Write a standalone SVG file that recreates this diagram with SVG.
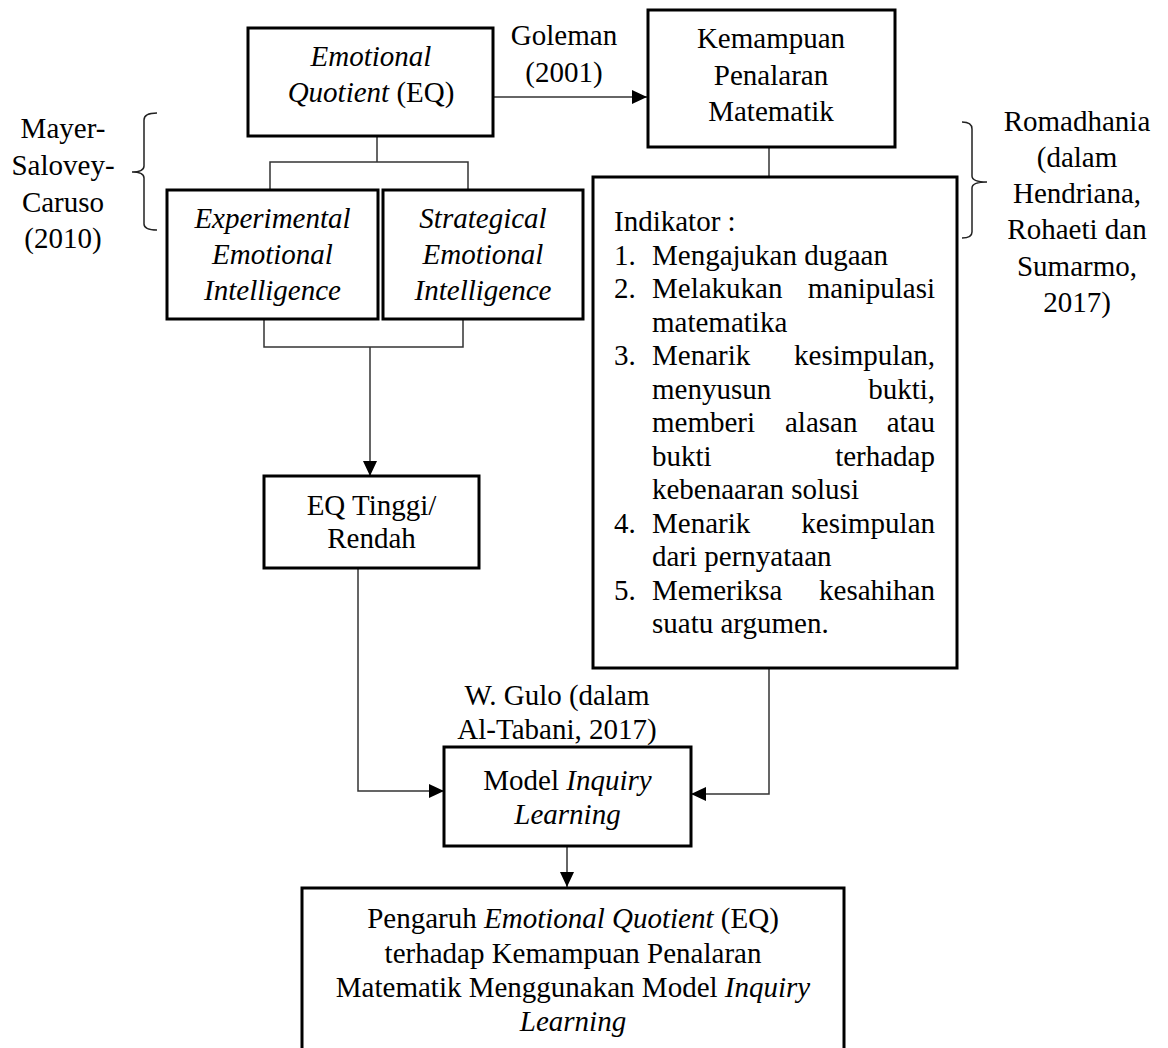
<svg xmlns="http://www.w3.org/2000/svg" width="1168" height="1048" viewBox="0 0 1168 1048">
<style>
text{font-family:"Liberation Serif","Times New Roman",serif;font-size:29px;fill:#000}
.c{text-anchor:middle}
.e{text-anchor:end}
.i{font-style:italic}
.box{fill:#fff;stroke:#000;stroke-width:3}
.con{fill:none;stroke:#333;stroke-width:1.5}
.brace{fill:none;stroke:#222;stroke-width:1.5}
</style>
<defs>
<marker id="ah" viewBox="0 0 15 14" refX="15" refY="7" markerWidth="15" markerHeight="14" markerUnits="userSpaceOnUse" orient="auto">
<path d="M0,0 L15,7 L0,14 z" fill="#000"/>
</marker>
</defs>
<rect width="1168" height="1048" fill="#fff"/>

<g id="connectors">
<path class="con" d="M493,97 H647" marker-end="url(#ah)"/>
<path class="con" d="M377,136 V162 M270,190 V162 H468 V190"/>
<path class="con" d="M769,147 V177"/>
<path class="con" d="M264,319 V347 H463 V319"/>
<path class="con" d="M370,347 V476" marker-end="url(#ah)"/>
<path class="con" d="M358,568 V791 H444" marker-end="url(#ah)"/>
<path class="con" d="M769,668 V794 H691" marker-end="url(#ah)"/>
<path class="con" d="M567,846 V887" marker-end="url(#ah)"/>
<path class="brace" d="M157,113 Q144,113 144,120 V166 Q144,172 132,172 Q144,172 144,178 V224 Q144,230 157,230"/>
<path class="brace" d="M962,122 Q972,122 972,129 V176 Q972,182 987,182 Q972,182 972,188 V232 Q972,238 962,238"/>
</g>

<g id="eq">
<rect class="box" x="248" y="28" width="245" height="108"/>
<text class="c i" x="371" y="66">Emotional</text>
<text class="c" x="371" y="102"><tspan class="i">Quotient</tspan> (EQ)</text>
</g>

<g id="goleman">
<text class="c" x="564" y="45">Goleman</text>
<text class="c" x="564" y="82">(2001)</text>
</g>

<g id="kemampuan">
<rect class="box" x="648" y="10" width="247" height="137"/>
<text class="c" x="771" y="48">Kemampuan</text>
<text class="c" x="771" y="84.5">Penalaran</text>
<text class="c" x="771" y="121">Matematik</text>
</g>

<g id="mayer">
<text class="c" x="63" y="138">Mayer-</text>
<text class="c" x="63" y="175">Salovey-</text>
<text class="c" x="63" y="212">Caruso</text>
<text class="c" x="63" y="248">(2010)</text>
</g>

<g id="experimental">
<rect class="box" x="167" y="190" width="211" height="129"/>
<text class="c i" x="272.5" y="228">Experimental</text>
<text class="c i" x="272.5" y="264">Emotional</text>
<text class="c i" x="272.5" y="300">Intelligence</text>
</g>

<g id="strategical">
<rect class="box" x="383" y="190" width="200" height="129"/>
<text class="c i" x="483" y="228">Strategical</text>
<text class="c i" x="483" y="264">Emotional</text>
<text class="c i" x="483" y="300">Intelligence</text>
</g>

<g id="indikator">
<rect class="box" x="593" y="177" width="364" height="491"/>
<text x="614" y="231">Indikator :</text>
<text x="614" y="264.5">1.</text><text x="652" y="264.5">Mengajukan dugaan</text>
<text x="614" y="298">2.</text><text x="652" y="298">Melakukan</text><text class="e" x="935" y="298">manipulasi</text>
<text x="652" y="331.5">matematika</text>
<text x="614" y="365">3.</text><text x="652" y="365">Menarik</text><text class="e" x="935" y="365">kesimpulan,</text>
<text x="652" y="398.5">menyusun</text><text class="e" x="935" y="398.5">bukti,</text>
<text x="652" y="432">memberi</text><text x="785" y="432">alasan</text><text class="e" x="935" y="432">atau</text>
<text x="652" y="465.5">bukti</text><text class="e" x="935" y="465.5">terhadap</text>
<text x="652" y="499">kebenaaran solusi</text>
<text x="614" y="532.5">4.</text><text x="652" y="532.5">Menarik</text><text class="e" x="935" y="532.5">kesimpulan</text>
<text x="652" y="566">dari pernyataan</text>
<text x="614" y="599.5">5.</text><text x="652" y="599.5">Memeriksa</text><text class="e" x="935" y="599.5">kesahihan</text>
<text x="652" y="633">suatu argumen.</text>
</g>

<g id="romadhania">
<text class="c" x="1077" y="130.5">Romadhania</text>
<text class="c" x="1077" y="167">(dalam</text>
<text class="c" x="1077" y="203">Hendriana,</text>
<text class="c" x="1077" y="239">Rohaeti dan</text>
<text class="c" x="1077" y="276">Sumarmo,</text>
<text class="c" x="1077" y="312">2017)</text>
</g>

<g id="eqtinggi">
<rect class="box" x="264" y="476" width="215" height="92"/>
<text class="c" x="371.5" y="515">EQ Tinggi/</text>
<text class="c" x="371.5" y="548">Rendah</text>
</g>

<g id="gulo">
<text class="c" x="557" y="705">W. Gulo (dalam</text>
<text class="c" x="557" y="739">Al-Tabani, 2017)</text>
</g>

<g id="model">
<rect class="box" x="444" y="747" width="247" height="99"/>
<text class="c" x="567.5" y="790">Model <tspan class="i">Inquiry</tspan></text>
<text class="c i" x="567.5" y="824">Learning</text>
</g>

<g id="pengaruh">
<rect class="box" x="302" y="888" width="542" height="170"/>
<text class="c" x="573" y="928">Pengaruh <tspan class="i">Emotional Quotient</tspan> (EQ)</text>
<text class="c" x="573" y="962.5">terhadap Kemampuan Penalaran</text>
<text class="c" x="573" y="997">Matematik Menggunakan Model <tspan class="i">Inquiry</tspan></text>
<text class="c i" x="573" y="1031">Learning</text>
</g>
</svg>
